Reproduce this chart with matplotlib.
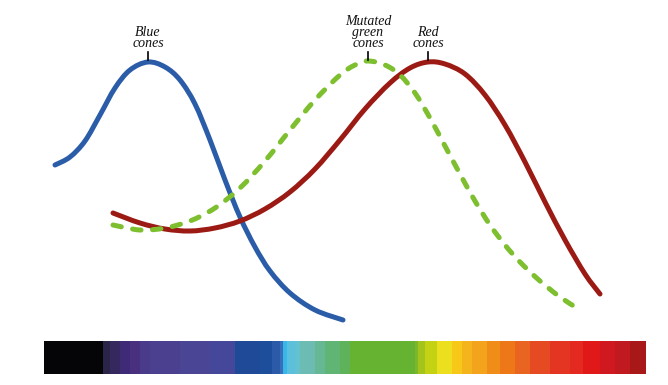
import matplotlib
matplotlib.use("Agg")
import matplotlib.pyplot as plt
from matplotlib.path import Path
from matplotlib.patches import PathPatch

# Curve data (horizontal position ~ wavelength scale, vertical = drawing height, inverted axis)
blue_x = [55, 70, 85, 100, 115, 130, 148, 165, 180, 195, 210, 225, 240, 255, 270, 290, 315, 343]
blue_y = [165, 157, 141, 115, 88, 70, 62, 67, 80, 104, 140, 180, 217, 247, 271, 293, 310, 320]

red_x = [113, 140, 165, 190, 215, 240, 265, 290, 315, 340, 365, 390, 410, 428, 445, 465, 485,
         505, 525, 545, 565, 585, 600]
red_y = [213, 223, 229, 231, 228, 221, 209, 192, 169, 140, 109, 83, 68, 62, 64, 74, 95,
         125, 162, 202, 240, 274, 294]

green_x = [113, 140, 165, 190, 215, 240, 265, 290, 315, 340, 355, 368, 385, 400, 415, 430, 445,
           460, 475, 490, 505, 520, 540, 560, 577]
green_y = [225, 230, 228, 221, 208, 188, 161, 130, 100, 75, 65, 61, 65, 75, 93, 118, 146,
           174, 201, 225, 245, 262, 281, 297, 308]

labels = ["Blue\ncones", "Mutated\ngreen\ncones", "Red\ncones"]
label_x = [148, 368, 428]

spec_edges = [44, 103, 110, 120, 130, 140, 150, 180, 210, 235, 260, 272, 280, 283, 287, 295, 300,
              315, 325, 340, 350, 415, 418, 425, 437, 452, 462, 472, 487, 500, 515, 530, 550,
              570, 583, 600, 615, 630, 645]
spec_colors = ["#050508", "#2a2448", "#35285e", "#3f2a78", "#48307f", "#4a3a8a", "#4b4090",
               "#4a4594", "#45479a", "#1e4a98", "#1c4e9c", "#2a5aa8", "#3a6eb8", "#38b8ea",
               "#5cc0dc", "#64c2d0", "#6cbcb4", "#66b894", "#60b474", "#5eb25a", "#66b332",
               "#7ab82a", "#a4c41c", "#c4d214", "#ecdf1e", "#f8c818", "#f4b41c", "#f4a41c",
               "#f08c18", "#ee7818", "#e86420", "#e64a22", "#e43422", "#e42a20", "#e01818",
               "#d01820", "#c01a20", "#a81818"]


def smooth_path(xs, ys):
    """Catmull-Rom through the data points, rendered as cubic Bezier segments."""
    pts = list(zip(xs, ys))
    n = len(pts)
    verts = [pts[0]]
    codes = [Path.MOVETO]
    for i in range(n - 1):
        p0 = pts[i - 1] if i > 0 else pts[i]
        p1 = pts[i]
        p2 = pts[i + 1]
        p3 = pts[i + 2] if i + 2 < n else pts[i + 1]
        c1 = (p1[0] + (p2[0] - p0[0]) / 6, p1[1] + (p2[1] - p0[1]) / 6)
        c2 = (p2[0] - (p3[0] - p1[0]) / 6, p2[1] - (p3[1] - p1[1]) / 6)
        verts += [c1, c2, p2]
        codes += [Path.CURVE4] * 3
    return Path(verts, codes)


fig = plt.figure(figsize=(6.68, 3.85), dpi=100)
ax = fig.add_axes([0, 0, 1, 1])
ax.set_xlim(0, 668)
ax.set_ylim(385, 0)
ax.axis("off")

# spectrum bar
for i, c in enumerate(spec_colors):
    ax.bar(spec_edges[i], 33, width=spec_edges[i + 1] - spec_edges[i] + 0.6, bottom=341,
           align="edge", color=c, linewidth=0)

lw = 3.6
ax.add_patch(PathPatch(smooth_path(blue_x, blue_y), fill=False, edgecolor="#2a5ca8", lw=lw,
                       capstyle="round", joinstyle="round"))
ax.add_patch(PathPatch(smooth_path(red_x, red_y), fill=False, edgecolor="#9b1a14", lw=lw,
                       capstyle="round", joinstyle="round"))
ax.add_patch(PathPatch(smooth_path(green_x, green_y), fill=False, edgecolor="#7dbf2e", lw=lw,
                       linestyle=(0, (1.7, 2.3)), capstyle="round", joinstyle="round"))

for lab, x in zip(labels, label_x):
    ax.text(x, 50, lab, ha="center", va="bottom", family="Liberation Serif",
            style="italic", fontsize=10, linespacing=0.78, color="#111111")
    ax.plot([x, x], [52, 60], color="black", lw=1.2)

fig.savefig("out.png", dpi=100)
